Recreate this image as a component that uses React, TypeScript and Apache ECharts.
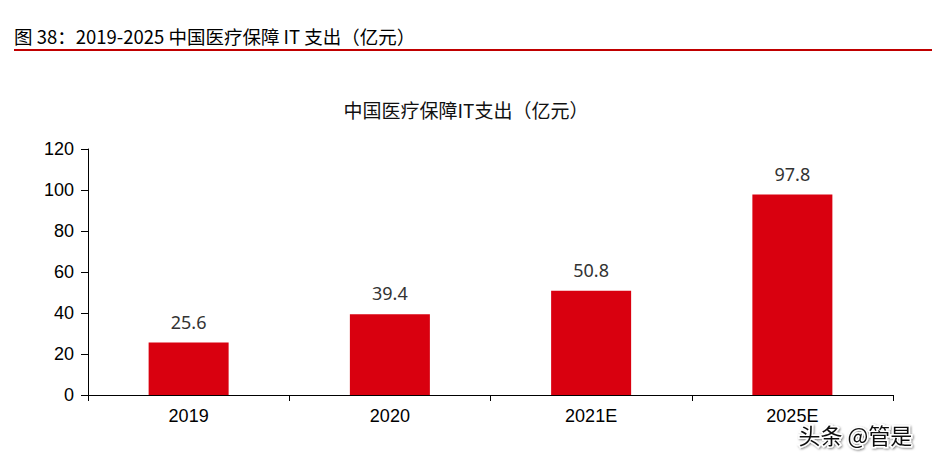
import React, { useEffect, useRef } from "react";
import * as echarts from "echarts";

const categories = ["2019", "2020", "2021E", "2025E"];
const values = [25.6, 39.4, 50.8, 97.8];
const yTicks = [0, 20, 40, 60, 80, 100, 120];

export default function App() {
  const ref = useRef<HTMLDivElement>(null);
  useEffect(() => {
    if (!ref.current) return;
    const chart = echarts.init(ref.current, undefined, { renderer: "svg" });
    chart.setOption({
      animation: false,
      backgroundColor: "#ffffff",
      title: {
        text: "中国医疗保障IT支出（亿元）",
        left: "center",
        top: 95,
        textStyle: {
          fontFamily: "Noto Sans CJK SC",
          fontSize: 19,
          fontWeight: "normal",
          color: "#111",
        },
      },
      grid: { left: 88, right: 39, top: 149, bottom: 64 },
      xAxis: {
        type: "category",
        data: categories,
        axisLine: { lineStyle: { color: "#000", width: 1 } },
        axisTick: { show: true, length: 6, lineStyle: { color: "#000" } },
        axisLabel: {
          color: "#000",
          fontSize: 18,
          fontFamily: "Liberation Sans",
          margin: 12,
        },
      },
      yAxis: {
        type: "value",
        min: yTicks[0],
        max: yTicks[yTicks.length - 1],
        interval: 20,
        axisLine: { show: true, lineStyle: { color: "#000", width: 1 } },
        axisTick: { show: true, length: 7, lineStyle: { color: "#000" } },
        splitLine: { show: false },
        axisLabel: {
          color: "#000",
          fontSize: 18,
          fontFamily: "Liberation Sans",
          margin: 14,
        },
      },
      series: [
        {
          type: "bar",
          data: values,
          barWidth: 80,
          itemStyle: { color: "#D9000F" },
          label: {
            show: true,
            position: "top",
            distance: 12,
            color: "#333",
            fontSize: 18,
            fontFamily: "Noto Sans",
            formatter: (p: any) => p.value.toFixed(1),
          },
        },
      ],
      graphic: [
        {
          type: "text",
          left: 14,
          top: 27,
          style: {
            text: "图 38：2019-2025 中国医疗保障 IT 支出（亿元）",
            fontFamily: "Noto Sans CJK SC",
            fontSize: 18.5,
            fill: "#000",
          },
        },
        {
          type: "line",
          shape: { x1: 14, y1: 50, x2: 932, y2: 50 },
          style: { stroke: "#C00000", lineWidth: 2 },
        },
        {
          type: "text",
          left: 797,
          top: 421,
          style: {
            text: "头条 @管是",
            fontFamily: "Noto Sans CJK SC",
            fontSize: 22,
            fill: "#111",
            stroke: "#fff",
            lineWidth: 3,
            textShadowColor: "rgba(0,0,0,0.5)",
            textShadowBlur: 2,
            textShadowOffsetX: 1,
            textShadowOffsetY: 1,
          },
        },
      ],
    });
    return () => chart.dispose();
  }, []);
  return <div ref={ref} style={{ width: 932, height: 459, position: "absolute", left: 0, top: 0 }} />;
}
